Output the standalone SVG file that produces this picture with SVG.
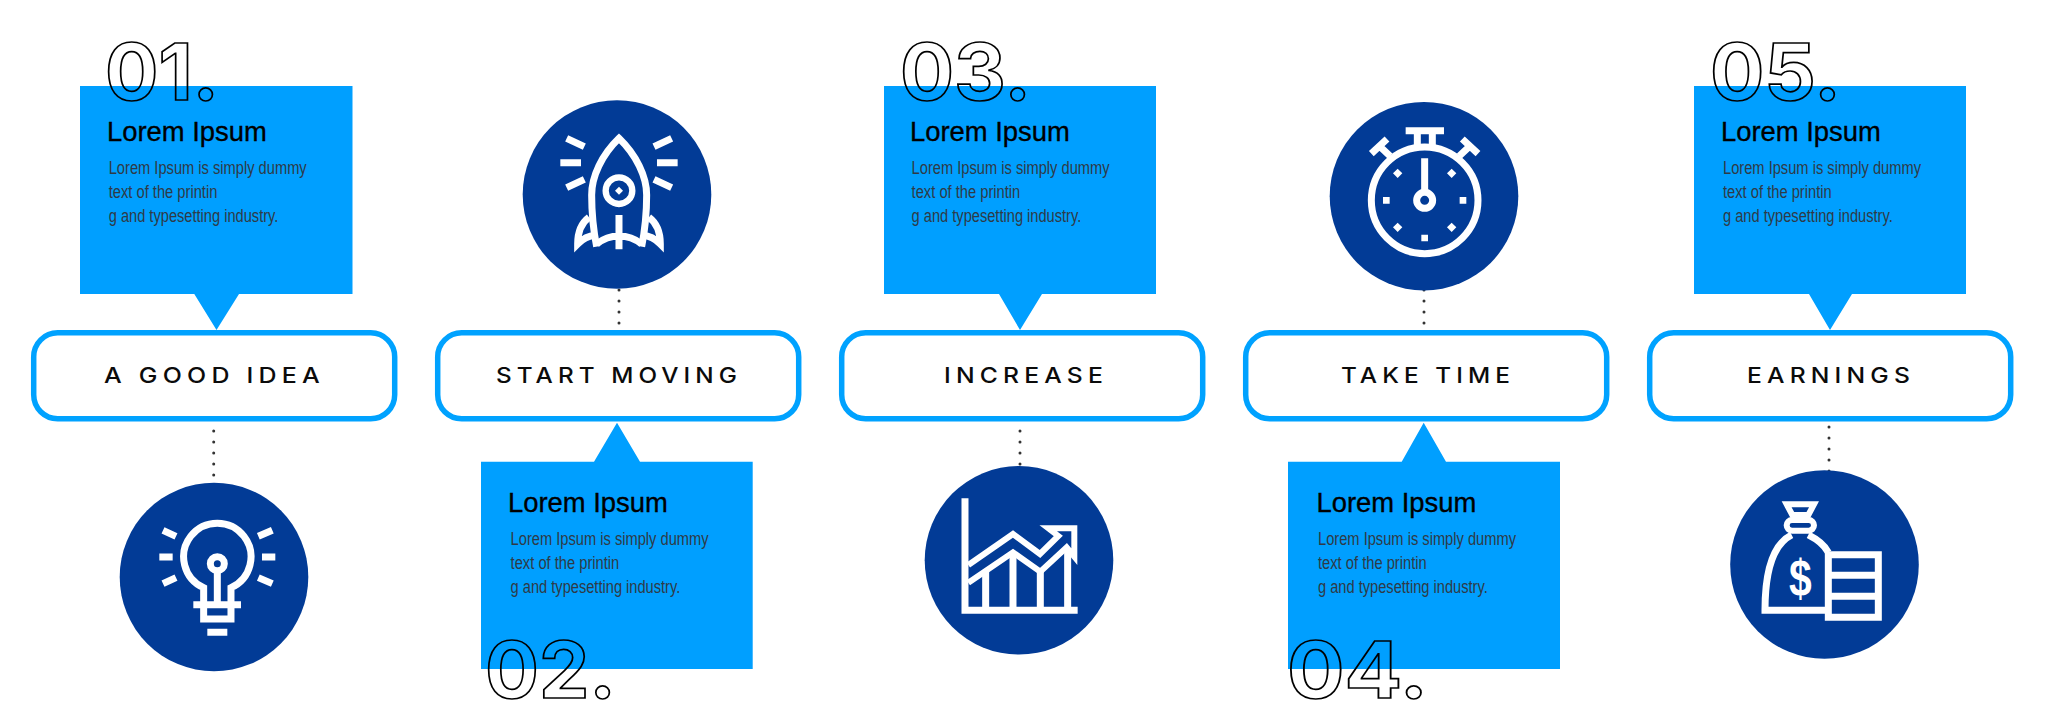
<svg xmlns="http://www.w3.org/2000/svg" width="2048" height="720" viewBox="0 0 2048 720">
<style>
.box{fill:#009fff}
.pill{fill:#fff;stroke:#00a2ff;stroke-width:5.5}
.disc{fill:#023b96}
.ic{fill:none;stroke:#fff;stroke-width:21;stroke-linejoin:miter}
.icf{fill:#fff;stroke:none}
.lab{font-family:"Inter","Liberation Sans",sans-serif;font-weight:500;font-size:21.5px;letter-spacing:4.5px;fill:#0b0b0b}
.num{font-family:"Inter","Liberation Sans",sans-serif;font-weight:700;font-size:78px;fill:none;stroke:#000;stroke-width:1.7}
.tt{font-family:"Liberation Sans",Arial,sans-serif;font-size:27.4px;fill:#000;stroke:#000;stroke-width:.35}
.bd{font-family:"Liberation Sans",Arial,sans-serif;font-size:17.5px;fill:#2f3a46}
.dot{fill:none;stroke:#333;stroke-width:3;stroke-linecap:round;stroke-dasharray:0 11}
</style>
<g id="connectors">
<path class="dot" d="M213.7 431V482"/>
<path class="dot" d="M619 290V328"/>
<path class="dot" d="M1020 431V466"/>
<path class="dot" d="M1424 290V328"/>
<path class="dot" d="M1829 427V472"/>
</g>
<g id="node-1">
<path class="box" d="M80 86H352.5V294H239L216.5 330L194.3 294H80Z"/>
<rect class="pill" x="33.7" y="332.8" width="361" height="86" rx="24"/>
<text class="lab" x="104" y="383" textLength="221" lengthAdjust="spacingAndGlyphs">A GOOD IDEA</text>
<text class="num" x="105" y="100.3" textLength="114" lengthAdjust="spacingAndGlyphs">01.</text>
<text class="tt" x="107" y="141">Lorem Ipsum</text>
<text class="bd" x="108.7" y="174.3" textLength="198" lengthAdjust="spacingAndGlyphs">Lorem Ipsum is simply dummy</text>
<text class="bd" x="108.7" y="198.3" textLength="108.7" lengthAdjust="spacingAndGlyphs">text of the printin</text>
<text class="bd" x="108.7" y="222.3" textLength="169.7" lengthAdjust="spacingAndGlyphs">g and typesetting industry.</text>
<circle class="disc" cx="214" cy="577" r="94.3"/>
<g transform="translate(110 470) scale(.3333)">
<path class="ic" d="M281 405V353A101 101 0 1 1 363 353V405"/>
<path class="ic" d="M281 405V447H363V405M250 404H393M292 487H352M322 300V405"/>
<circle class="ic" cx="322" cy="281" r="21"/>
<path class="ic" d="M148 261H188M456 261H496M159 181L198 199M159 341L198 323M487 181L445 199M487 341L445 323"/>
</g>
</g>
<g id="node-2">
<path class="box" d="M481 461.7H594L617 422.7L640 461.7H752.7V669H481Z"/>
<rect class="pill" x="437.7" y="332.8" width="361" height="86" rx="24"/>
<text class="lab" x="496" y="383" textLength="246" lengthAdjust="spacingAndGlyphs">START MOVING</text>
<text class="num" x="485" y="697.5" textLength="131" lengthAdjust="spacingAndGlyphs">02.</text>
<text class="tt" x="508" y="512">Lorem Ipsum</text>
<text class="bd" x="510.6" y="545.3" textLength="198" lengthAdjust="spacingAndGlyphs">Lorem Ipsum is simply dummy</text>
<text class="bd" x="510.6" y="569.3" textLength="108.7" lengthAdjust="spacingAndGlyphs">text of the printin</text>
<text class="bd" x="510.6" y="593.3" textLength="169.7" lengthAdjust="spacingAndGlyphs">g and typesetting industry.</text>
<circle class="disc" cx="617" cy="194.5" r="94.3"/>
<g transform="translate(515 90) scale(.3333)">
<path class="ic" d="M245 470C235 420 230 370 230 315C230 260 260 195 312 145C364 195 395 260 395 315C395 370 390 420 380 470"/>
<path class="ic" d="M245 462Q275 438 312 438Q350 438 380 462M312 375V478"/>
<circle class="ic" cx="312" cy="302" r="40" style="stroke-width:19"/>
<path class="icf" d="M312 290L324 302L312 314L300 302Z"/>
<path class="ic" d="M222 382C198 400 188 430 188 462Q212 438 240 436M402 382C426 400 436 430 436 462Q412 438 384 436"/>
<path class="ic" d="M155 145L208 170M136 218H198M155 293L208 268M470 145L417 170M426 218H488M470 293L417 268"/>
</g>
</g>
<g id="node-3">
<path class="box" d="M884 86H1156V294H1042L1020 330L999 294H884Z"/>
<rect class="pill" x="841.7" y="332.8" width="361" height="86" rx="24"/>
<text class="lab" x="944" y="383" textLength="164" lengthAdjust="spacingAndGlyphs">INCREASE</text>
<text class="num" x="900" y="100.3" textLength="131" lengthAdjust="spacingAndGlyphs">03.</text>
<text class="tt" x="910" y="141">Lorem Ipsum</text>
<text class="bd" x="911.6" y="174.3" textLength="198" lengthAdjust="spacingAndGlyphs">Lorem Ipsum is simply dummy</text>
<text class="bd" x="911.6" y="198.3" textLength="108.7" lengthAdjust="spacingAndGlyphs">text of the printin</text>
<text class="bd" x="911.6" y="222.3" textLength="169.7" lengthAdjust="spacingAndGlyphs">g and typesetting industry.</text>
<circle class="disc" cx="1019" cy="560.3" r="94.3"/>
<g transform="translate(920 460) scale(.3333)">
<path class="ic" d="M135 115V451H473"/>
<path class="ic" d="M197 335V441M279 285V441M361 335V441M443 270V441"/>
<path class="ic" style="stroke-width:18" d="M145 315L279 222L360 282L415 228L385 205H463V290L440 262L361 335L279 277L145 368"/>
</g>
</g>
<g id="node-4">
<path class="box" d="M1288 461.7H1401.7L1423.7 422.7L1446 461.7H1560V669H1288Z"/>
<rect class="pill" x="1245.7" y="332.8" width="361" height="86" rx="24"/>
<text class="lab" x="1341" y="383" textLength="174" lengthAdjust="spacingAndGlyphs">TAKE TIME</text>
<text class="num" x="1287" y="697.5" textLength="141" lengthAdjust="spacingAndGlyphs">04.</text>
<text class="tt" x="1316.5" y="512">Lorem Ipsum</text>
<text class="bd" x="1318" y="545.3" textLength="198" lengthAdjust="spacingAndGlyphs">Lorem Ipsum is simply dummy</text>
<text class="bd" x="1318" y="569.3" textLength="108.7" lengthAdjust="spacingAndGlyphs">text of the printin</text>
<text class="bd" x="1318" y="593.3" textLength="169.7" lengthAdjust="spacingAndGlyphs">g and typesetting industry.</text>
<circle class="disc" cx="1424" cy="196.2" r="94.3"/>
<g transform="translate(1325 95) scale(.3333)">
<circle class="ic" cx="299" cy="316" r="160"/>
<circle class="ic" cx="299" cy="316" r="24"/>
<path class="ic" d="M242 107H357M277 118V150M322 118V150M299 190V292"/>
<path class="ic" d="M139 176L186 132M160 150L195 183M459 176L412 132M438 150L403 183"/>
<path class="icf" d="M174 306h20v20h-20ZM404 306h20v20h-20ZM289 419h20v20h-20ZM218 221l14 14l-14 14l-14-14ZM380 221l14 14l-14 14l-14-14ZM218 383l14 14l-14 14l-14-14ZM380 383l14 14l-14 14l-14-14Z"/>
</g>
</g>
<g id="node-5">
<path class="box" d="M1694 86H1966V294H1852L1830 330L1809 294H1694Z"/>
<rect class="pill" x="1649.7" y="332.8" width="361" height="86" rx="24"/>
<text class="lab" x="1747" y="383" textLength="168" lengthAdjust="spacingAndGlyphs">EARNINGS</text>
<text class="num" x="1710" y="100.3" textLength="131" lengthAdjust="spacingAndGlyphs">05.</text>
<text class="tt" x="1721" y="141">Lorem Ipsum</text>
<text class="bd" x="1723" y="174.3" textLength="198" lengthAdjust="spacingAndGlyphs">Lorem Ipsum is simply dummy</text>
<text class="bd" x="1723" y="198.3" textLength="108.7" lengthAdjust="spacingAndGlyphs">text of the printin</text>
<text class="bd" x="1723" y="222.3" textLength="169.7" lengthAdjust="spacingAndGlyphs">g and typesetting industry.</text>
<circle class="disc" cx="1824.5" cy="564.5" r="94.3"/>
<g transform="translate(1725 465) scale(.3333)">
<path class="ic" d="M185 118H267L250 150H202Z" style="stroke-width:18"/>
<rect class="ic" x="185" y="165" width="82" height="32" rx="16" style="stroke-width:18"/>
<path class="ic" d="M200 210C150 235 120 300 120 436H310M310 262C295 235 270 220 250 210"/>
<path class="ic" d="M310 269H460V457H310ZM310 331H460M310 394H460"/>
<text x="192" y="392" textLength="68" lengthAdjust="spacingAndGlyphs" font-family="Liberation Sans,Arial,sans-serif" font-weight="700" font-size="155" fill="#fff">$</text>
</g>
</g>
</svg>
